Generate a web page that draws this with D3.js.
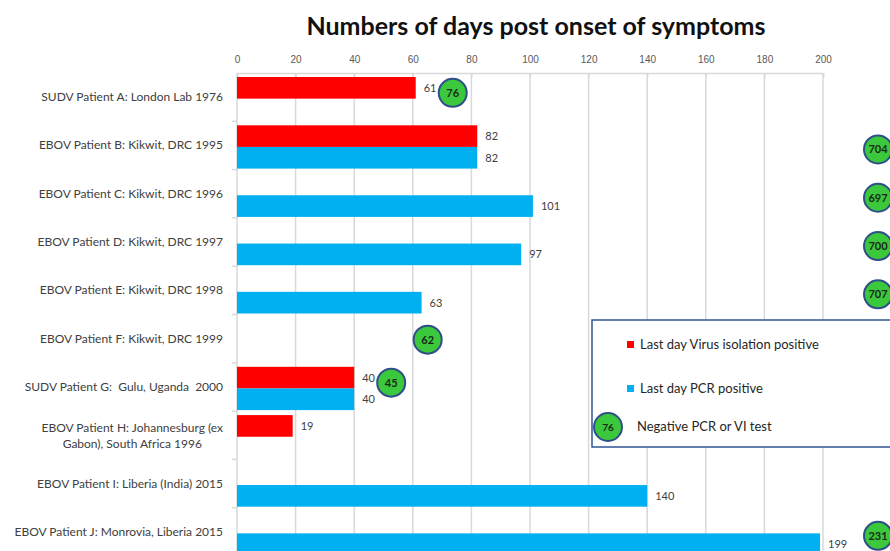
<!DOCTYPE html>
<html>
<head>
<meta charset="utf-8">
<script src="https://cdn.jsdelivr.net/npm/d3@7"></script>
<style>
  body { margin: 0; background: #fff; }
  svg { display: block; font-family: Lato, "Open Sans", sans-serif; }
  svg text { white-space: pre; }
</style>
</head>
<body>
<svg class="days" width="890" height="551"></svg>
<script>
// values
var patients = [
  "SUDV Patient A: London Lab 1976",
  "EBOV Patient B: Kikwit, DRC 1995",
  "EBOV Patient C: Kikwit, DRC 1996",
  "EBOV Patient D: Kikwit, DRC 1997",
  "EBOV Patient E: Kikwit, DRC 1998",
  "EBOV Patient F: Kikwit, DRC 1999",
  "SUDV Patient G:  Gulu, Uganda  2000",
  "EBOV Patient H: Johannesburg (ex|Gabon), South Africa 1996",
  "EBOV Patient I: Liberia (India) 2015",
  "EBOV Patient J: Monrovia, Liberia 2015"
];
var viDays  = [61, 82, null, null, null, null, 40, 19, null, null];
var pcrDays = [null, 82, 101, 97, 63, null, 40, null, 140, 199];
var negDays = [76, 704, 697, 700, 707, 62, 45, null, null, 231];
var xTicks  = [0, 20, 40, 60, 80, 100, 120, 140, 160, 180, 200];
var legendLabels = ["Last day Virus isolation positive", "Last day PCR positive", "Negative PCR or VI test"];
var legendSample = 76;

function drawChart(){
  var svg = d3.select("svg.days");
  var red = "#ff0000", blue = "#00b0f0",
      green = "#3cc83c", ring = "#2f4f88",
      grid = "#d9d9d9", textCol = "#404040";

  var x = d3.scaleLinear().domain([0, 200]).range([237, 823]);
  var y = d3.scaleBand().domain(patients).range([73, 556]);
  var sub = d3.scaleBand().domain(["vi", "pcr"]).range([4, y.bandwidth() - 1]);

  var rows = patients.map(function(p, i){
    return {name: p, vi: viDays[i], pcr: pcrDays[i], neg: negDays[i]};
  });

  // title
  svg.append("text")
    .attr("x", 536).attr("y", 35)
    .attr("text-anchor", "middle")
    .attr("font-size", 25).attr("font-weight", "bold")
    .attr("fill", "#111")
    .text("Numbers of days post onset of symptoms");

  // vertical gridlines
  svg.append("g").selectAll("line")
    .data(xTicks.slice(1))
    .enter().append("line")
    .attr("x1", function(d){ return x(d); })
    .attr("x2", function(d){ return x(d); })
    .attr("y1", 73).attr("y2", 551)
    .attr("stroke", grid).attr("stroke-width", 1.5);

  // top axis
  var ax = svg.append("g")
    .attr("transform", "translate(0,73)")
    .call(d3.axisTop(x).tickValues(xTicks).tickSize(-4).tickPadding(10));
  ax.select(".domain").attr("stroke", grid).attr("stroke-width", 1.5);
  ax.selectAll(".tick line").attr("stroke", grid).attr("stroke-width", 1.5);
  ax.selectAll(".tick text")
    .attr("font-family", "'Liberation Sans Narrow', sans-serif")
    .attr("font-size", 10).attr("fill", "#595959");

  // left axis line with boundary ticks
  svg.append("line")
    .attr("x1", x(0)).attr("x2", x(0))
    .attr("y1", 73).attr("y2", 551)
    .attr("stroke", grid).attr("stroke-width", 1.5);
  svg.append("g").selectAll("line")
    .data(patients.slice(1))
    .enter().append("line")
    .attr("x1", x(0) - 5).attr("x2", x(0))
    .attr("y1", function(d){ return y(d); })
    .attr("y2", function(d){ return y(d); })
    .attr("stroke", grid).attr("stroke-width", 1.5);

  // bars
  var row = svg.append("g").selectAll("g.row")
    .data(rows)
    .enter().append("g")
    .attr("class", "row")
    .attr("transform", function(d){ return "translate(0," + y(d.name) + ")"; });

  [["vi", red], ["pcr", blue]].forEach(function(s){
    var key = s[0];
    var withVal = row.filter(function(d){ return d[key] != null; });
    withVal.append("rect")
      .attr("x", x(0))
      .attr("y", sub(key))
      .attr("width", function(d){ return x(d[key]) - x(0); })
      .attr("height", sub.bandwidth())
      .attr("fill", s[1]);
    withVal.append("text")
      .attr("x", function(d){ return x(d[key]) + 8; })
      .attr("y", sub(key) + sub.bandwidth() / 2 + 4)
      .attr("font-size", 11).attr("fill", textCol)
      .text(function(d){ return d[key]; });
  });

  // negative test bubbles
  var bub = row.filter(function(d){ return d.neg != null; })
    .append("g")
    .attr("transform", function(d){
      var top = d3.max([d.vi, d.pcr]);
      var cx, cy;
      if (d.neg > 200) { cx = 878; cy = y.bandwidth() / 2 + 4; }
      else if (top != null) { cx = x(top) + 37; cy = sub("vi") + sub.bandwidth() / 2 + 5; }
      else { cx = x(d.neg) + 9; cy = y.bandwidth() / 2 + 1; }
      return "translate(" + cx + "," + cy + ")";
    });
  bub.append("circle").attr("r", 14)
    .attr("fill", green).attr("stroke", ring).attr("stroke-width", 2);
  bub.append("text")
    .attr("text-anchor", "middle").attr("y", 4)
    .attr("font-size", 11).attr("font-weight", "bold").attr("fill", "#1a2a1a")
    .text(function(d){ return d.neg; });

  // category labels
  svg.append("g").selectAll("text")
    .data(patients)
    .enter().append("text")
    .attr("font-size", 12).attr("fill", textCol)
    .each(function(d){
      var t = d3.select(this), lines = d.split("|");
      var cy = y(d) + y.bandwidth() / 2;
      if (lines.length == 1) {
        t.attr("x", 223).attr("y", cy + 4).attr("text-anchor", "end").text(d);
      } else {
        t.attr("text-anchor", "middle");
        var spans = t.selectAll("tspan").data(lines).enter().append("tspan")
          .text(function(l){ return l; });
        var w = 0;
        spans.each(function(){ w = Math.max(w, this.getComputedTextLength()); });
        spans.attr("x", 223 - w / 2)
          .attr("y", function(l, i){ return cy - 3 + i * 16; });
      }
    });

  // legend
  var lg = svg.append("g").attr("transform", "translate(592,320)");
  lg.append("rect").attr("width", 310).attr("height", 127)
    .attr("fill", "#fff").attr("stroke", "#2f5597").attr("stroke-width", 1.5);
  [red, blue].forEach(function(c, i){
    lg.append("rect").attr("x", 35).attr("y", 21 + i * 44)
      .attr("width", 7).attr("height", 7).attr("fill", c);
    lg.append("text").attr("x", 48).attr("y", 29 + i * 44)
      .attr("font-size", 13).attr("fill", "#262626")
      .text(legendLabels[i]);
  });
  var lb = lg.append("g").attr("transform", "translate(16,107)");
  lb.append("circle").attr("r", 14)
    .attr("fill", green).attr("stroke", ring).attr("stroke-width", 2);
  lb.append("text").attr("text-anchor", "middle").attr("y", 4)
    .attr("font-size", 10).attr("font-weight", "bold").attr("fill", "#1a2a1a")
    .text(legendSample);
  lg.append("text").attr("x", 45).attr("y", 111)
    .attr("font-size", 13).attr("fill", "#262626")
    .text(legendLabels[2]);
}

drawChart();
</script>
</body>
</html>
